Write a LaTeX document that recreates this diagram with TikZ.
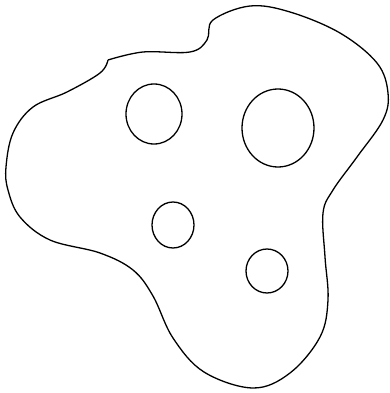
\documentclass[tikz,border=0pt]{standalone}
\usetikzlibrary{calc}

\begin{document}
\begin{tikzpicture}[x=1pt, y=-1pt, line width=1.3pt]
  \useasboundingbox (0,0) rectangle (390,393);

  % Coordinates
  \coordinate (C) at (108, 60);
  \coordinate (H1) at (154, 114);
  \coordinate (H2) at (278, 128);
  \coordinate (H3) at (173, 225);
  \coordinate (H4) at (267, 271);

  % Drawing
  \draw plot[smooth, tension=0.6] coordinates {
    (C) (143,52) (190,52) (207,40) (213,20) (250,6) (290,12) (340,33)
    (377,63) (388,93) (383,120) (357,157) (333,190) (323,213) (325,257)
    (328,300) (320,337) (290,373) (253,388) (204,372) (173,338)
    (153,296) (133,270) (100,253) (50,240) (20,217) (8,190) (6,167)
    (13,133) (33,107) (67,92) (100,73) (C)};
  \draw (H1) ellipse (28 and 30);
  \draw (H2) ellipse (36 and 39);
  \draw (H3) ellipse (21 and 23);
  \draw (H4) ellipse (21 and 22);
\end{tikzpicture}
\end{document}
